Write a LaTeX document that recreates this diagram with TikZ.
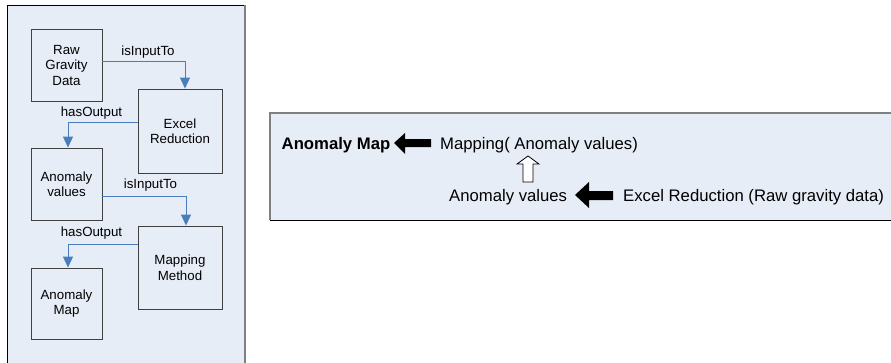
\documentclass[tikz,border=0pt]{standalone}
\usepackage{fontspec}
\setmainfont{Liberation Sans}
\usetikzlibrary{arrows.meta}
\definecolor{panelbg}{HTML}{E7EDF7}
\definecolor{connblue}{HTML}{4A7EBB}
\definecolor{boxline}{HTML}{404040}
\tikzset{
  box/.style={draw=boxline, line width=0.9pt, fill=panelbg, align=center,
    font=\fontsize{13.3}{15.5}\selectfont, inner sep=0pt},
  lbl/.style={font=\fontsize{13.3}{15.5}\selectfont, inner sep=0pt},
  conn/.style={draw=connblue, line width=0.9pt, -{Triangle[length=11pt,width=10pt]}},
  rtext/.style={font=\fontsize{16.7}{19}\selectfont, inner sep=0pt, anchor=base west},
  bigarrow/.style={fill=black},
}
\begin{document}
\begin{tikzpicture}[x=1pt,y=-1pt]
\useasboundingbox (0,0) rectangle (891,362);
% left panel
\fill[panelbg] (7,5) rectangle (245,370);
\draw[black, line width=0.9pt] (7,370) -- (7,5) -- (245,5);
\draw[gray, line width=1.2pt] (245,5) -- (245,370);
% boxes
\node[box, minimum width=71pt, minimum height=72pt] (raw) at (66.5,65) {Raw\\Gravity\\Data};
\node[box, minimum width=84pt, minimum height=84pt] (excel) at (180,131) {Excel\\Reduction};
\node[box, minimum width=71pt, minimum height=72pt] (anomv) at (66.5,184) {Anomaly\\values};
\node[box, minimum width=84pt, minimum height=83pt] (mapping) at (180,267.5) {Mapping\\Method};
\node[box, minimum width=71pt, minimum height=71pt] (anommap) at (66.5,303.5) {Anomaly\\Map};
% connectors
\draw[conn] ([yshift=4pt]raw.east) -| ([xshift=5pt]excel.north);
\draw[conn] ([yshift=9pt]excel.west) -| ([xshift=1.5pt]anomv.north);
\draw[conn] ([yshift=-12pt]anomv.east) -| ([xshift=6pt]mapping.north);
\draw[conn] ([yshift=23.5pt]mapping.west) -| ([xshift=1.5pt]anommap.north);
\node[lbl] (l1) at (148,52) {isInputTo};
\node[lbl] (l2) at (91.5,113) {hasOutput};
\node[lbl] (l3) at (150.5,185) {isInputTo};
\node[lbl] (l4) at (91.5,233) {hasOutput};
% right panel
\fill[panelbg] (270,113) rectangle (895,220);
\draw[gray, line width=1.2pt] (270,220) -- (270,113) -- (895,113);
\draw[black, line width=1pt] (270,220) -- (895,220);
\node[rtext, font=\fontsize{16.7}{19}\selectfont\bfseries] (amap) at (281.5,149.5) {Anomaly Map};
\node[rtext] (mapf) at (440,149.5) {Mapping( Anomaly values)};
\node[rtext] (avals) at (449,201) {Anomaly values};
\node[rtext] (exred) at (623,201) {Excel Reduction (Raw gravity data)};
% block arrows
\fill[bigarrow] (431,139) -- (405,139) -- (405,133) -- (394,143) -- (405,154) -- (405,147) -- (431,147) -- cycle;
\fill[bigarrow] (613,191) -- (589,191) -- (589,182) -- (575,195) -- (589,208) -- (589,200) -- (613,200) -- cycle;
% hollow up arrow
\draw[black, fill=white, line width=0.8pt, line join=miter]
  (523,182) -- (523,164) -- (517,164) -- (528,156) -- (539,164) -- (533,164) -- (533,182) -- cycle;
\end{tikzpicture}
\end{document}
